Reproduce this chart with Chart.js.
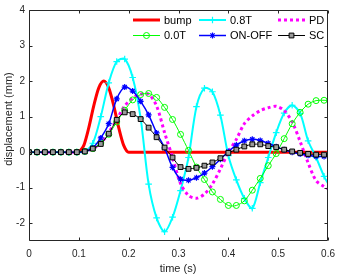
<!DOCTYPE html>
<html><head><meta charset="utf-8">
<script src="https://cdn.jsdelivr.net/npm/chart.js@4/dist/chart.umd.min.js"></script>
<style>html,body{margin:0;padding:0;background:#fff;overflow:hidden}canvas{display:block}</style>
</head><body>
<canvas id="c" width="342" height="276"></canvas>
<script>
// ---- data ----
const timeGrid = [0,0.016,0.032,0.048,0.064,0.08,0.096,0.112,0.128,0.144,0.16,0.176,0.192,0.208,0.224,0.24,0.256,0.272,0.288,0.304,0.32,0.336,0.352,0.368,0.384,0.4,0.416,0.432,0.448,0.464,0.48,0.496,0.512,0.528,0.544,0.56,0.576,0.592,0.6];
const bumpTime = [0.1,0.11,0.12,0.13,0.14,0.15,0.16,0.17,0.18,0.19,0.2,0.6];
const bumpValues = [0,0.19,0.69,1.31,1.81,2.0,1.81,1.31,0.69,0.19,0,0];
const values08T = [0,0,0,0,0,0,0,0.02,0.25,1.0,1.95,2.55,2.62,2.1,0.95,-0.9,-1.85,-2.24,-1.83,-1.08,-0.15,1.28,1.8,1.7,1.04,-0.1,-0.78,-1.3,-1.58,-0.86,-0.15,0.55,1.1,1.32,1.09,0.32,-0.15,-0.68,-0.88];
const valuesPD = [0,0,0,0,0,0,0,0.02,0.1,0.25,0.55,0.92,1.3,1.52,1.63,1.63,1.3,0.55,-0.15,-0.88,-1.22,-1.3,-1.18,-0.9,-0.47,0,0.36,0.8,1.02,1.17,1.25,1.29,1.17,0.85,0.3,-0.3,-0.8,-0.97,-1.03];
const values00T = [0,0,0,0,0,0,0,0.02,0.1,0.26,0.5,0.85,1.18,1.47,1.62,1.65,1.54,1.26,0.92,0.5,0.05,-0.42,-0.77,-1.12,-1.33,-1.5,-1.5,-1.37,-1.07,-0.74,-0.38,-0.04,0.38,0.8,1.12,1.35,1.45,1.46,1.45];
const valuesOnOff = [0,0,0,0,0,0,0,0.02,0.12,0.4,0.8,1.5,1.83,1.72,1.43,1.05,0.54,0.12,-0.43,-0.76,-0.79,-0.72,-0.59,-0.41,-0.2,0.02,0.2,0.32,0.36,0.33,0.25,0.15,0.07,0,-0.05,-0.09,-0.12,-0.12,-0.12];
const valuesSC = [0,0,0,0,0,0,0,0.02,0.1,0.23,0.52,0.91,1.12,1.07,0.93,0.69,0.42,0.13,-0.15,-0.42,-0.47,-0.44,-0.38,-0.29,-0.17,-0.02,0.07,0.16,0.22,0.22,0.17,0.14,0.07,0.02,-0.02,-0.05,-0.07,-0.07,-0.07];
const seriesNames = ['bump','0.8T','PD','0.0T','ON-OFF','SC'];
const xTicks = [0,0.1,0.2,0.3,0.4,0.5,0.6];
const yTicks = [-2,-1,0,1,2,3,4];
const xTitle = 'time (s)';
const yTitle = 'displacement (mm)';

// ---- build ----
const pts = (xs, ys) => xs.map((x, i) => ({x: x, y: ys[i]}));
const FONT = '"Liberation Sans", Arial, Helvetica, sans-serif';
const lastHidden = r => ctx => (ctx.dataIndex === timeGrid.length - 1 ? 0 : r);

const datasets = [
  {label: seriesNames[0], data: pts(bumpTime, bumpValues), borderColor: '#ff0000', borderWidth: 3,
   pointRadius: 0, cubicInterpolationMode: 'monotone', order: 6},
  {label: seriesNames[1], data: pts(timeGrid, values08T), borderColor: '#00ffff', borderWidth: 2,
   pointStyle: 'cross', pointRadius: lastHidden(3.3), pointBorderColor: '#00ffff', pointBorderWidth: 1.2, tension: 0.3, order: 5},
  {label: seriesNames[2], data: pts(timeGrid, valuesPD), borderColor: '#ff00ff', borderWidth: 3, borderDash: [3, 3],
   pointRadius: 0, tension: 0.3, order: 4},
  {label: seriesNames[3], data: pts(timeGrid, values00T), borderColor: '#00ff00', borderWidth: 1,
   pointStyle: 'circle', pointRadius: lastHidden(3), pointBorderColor: '#00ff00', pointBackgroundColor: 'rgba(0,0,0,0)', pointBorderWidth: 1, tension: 0.3, order: 3},
  {label: seriesNames[4], data: pts(timeGrid, valuesOnOff), borderColor: '#0000ff', borderWidth: 1.5,
   pointStyle: 'star', pointRadius: lastHidden(3), pointBorderColor: '#0000ff', pointBorderWidth: 1.2, tension: 0.3, order: 2},
  {label: seriesNames[5], data: pts(timeGrid, valuesSC), borderColor: '#000000', borderWidth: 1,
   pointStyle: 'rect', pointRadius: lastHidden(3.4), pointBorderColor: '#000000', pointBackgroundColor: '#9a9a9a', pointBorderWidth: 1, tension: 0.3, order: 1}
];

function marker(ctx, style, x, y, r, stroke, fill, lw) {
  ctx.save();
  ctx.strokeStyle = stroke; ctx.lineWidth = lw; ctx.fillStyle = fill || 'rgba(0,0,0,0)';
  ctx.beginPath();
  if (style === 'circle') { ctx.arc(x, y, r, 0, Math.PI * 2); ctx.fill(); ctx.stroke(); }
  else if (style === 'rect') { const s = r * Math.SQRT1_2; ctx.rect(x - s, y - s, 2 * s, 2 * s); ctx.fill(); ctx.stroke(); }
  else if (style === 'cross') { ctx.moveTo(x - r, y); ctx.lineTo(x + r, y); ctx.moveTo(x, y - r); ctx.lineTo(x, y + r); ctx.stroke(); }
  else if (style === 'star') {
    ctx.moveTo(x - r, y); ctx.lineTo(x + r, y); ctx.moveTo(x, y - r); ctx.lineTo(x, y + r);
    const d = r * Math.SQRT1_2;
    ctx.moveTo(x - d, y - d); ctx.lineTo(x + d, y + d); ctx.moveTo(x - d, y + d); ctx.lineTo(x + d, y - d); ctx.stroke();
  }
  ctx.restore();
}

const framePlugin = {
  id: 'frame',
  afterDraw(chart) {
    const ctx = chart.ctx, a = chart.chartArea;
    const xs = chart.scales.x, ys = chart.scales.y;
    ctx.save();
    ctx.strokeStyle = '#262626'; ctx.lineWidth = 1;
    const L = Math.round(a.left) + 0.5, R = Math.round(a.right) - 0.5, T = Math.round(a.top) + 0.5, B = Math.round(a.bottom) - 0.5;
    ctx.beginPath();
    ctx.rect(L, T, R - L, B - T);
    xTicks.forEach(v => { const p = Math.round(xs.getPixelForValue(v)) + 0.5; ctx.moveTo(p, B); ctx.lineTo(p, B - 3); ctx.moveTo(p, T); ctx.lineTo(p, T + 3); });
    yTicks.forEach(v => { const p = Math.round(ys.getPixelForValue(v)) + 0.5; ctx.moveTo(L, p); ctx.lineTo(L + 3, p); ctx.moveTo(R, p); ctx.lineTo(R - 3, p); });
    ctx.stroke();
    // axis titles
    ctx.fillStyle = '#262626';
    ctx.font = '11px ' + FONT;
    ctx.textAlign = 'center'; ctx.textBaseline = 'middle';
    ctx.fillText(xTitle, 178, 269);
    ctx.translate(9, 119); ctx.rotate(-Math.PI / 2);
    ctx.fillText(yTitle, 0, 0);
    ctx.restore();
    // legend (3 columns, row-major)
    const colX = [133, 199, 278], rowY = [20, 35.5], segLen = 27;
    ctx.save();
    ctx.font = '11px ' + FONT; ctx.textAlign = 'left'; ctx.textBaseline = 'middle'; 
    chart.data.datasets.forEach((ds, i) => {
      const x0 = colX[i % 3], y0 = rowY[Math.floor(i / 3)];
      ctx.save();
      ctx.strokeStyle = ds.borderColor; ctx.lineWidth = ds.borderWidth;
      if (ds.borderDash) ctx.setLineDash(ds.borderDash);
      ctx.beginPath(); ctx.moveTo(x0, y0); ctx.lineTo(x0 + segLen, y0); ctx.stroke();
      ctx.restore();
      if (ds.pointStyle) {
        const r = typeof ds.pointRadius === 'function' ? ds.pointRadius({dataIndex: 0}) : ds.pointRadius;
        marker(ctx, ds.pointStyle, x0 + segLen / 2, y0, r, ds.pointBorderColor, ds.pointBackgroundColor, ds.pointBorderWidth);
      }
      ctx.fillStyle = '#000';
      ctx.fillText(ds.label, x0 + segLen + 4, y0 + 0.5);
    });
    ctx.restore();
  }
};

new Chart(document.getElementById('c'), {
  type: 'line',
  data: {datasets: datasets},
  options: {
    responsive: false, animation: false, devicePixelRatio: 1,
    layout: {padding: {left: 0, right: 7, top: 3, bottom: 0}},
    plugins: {legend: {display: false}, tooltip: {enabled: false}},
    scales: {
      x: {type: 'linear', min: 0, max: 0.6,
          afterBuildTicks: s => { s.ticks = xTicks.map(v => ({value: v})); },
          afterFit: s => { s.height = 35; },
          grid: {display: false, drawTicks: false}, border: {display: false},
          ticks: {padding: 7, maxRotation: 0, autoSkip: false, color: '#262626', font: {family: FONT, size: 10},
                  callback: v => String(v)}},
      y: {type: 'linear', min: -2.5, max: 4,
          afterBuildTicks: s => { s.ticks = yTicks.map(v => ({value: v})); },
          afterFit: s => { s.width = 29; },
          grid: {display: false, drawTicks: false}, border: {display: false},
          ticks: {padding: 4, autoSkip: false, color: '#262626', font: {family: FONT, size: 10},
                  callback: v => String(v)}}
    }
  },
  plugins: [framePlugin]
});
</script>
</body></html>
